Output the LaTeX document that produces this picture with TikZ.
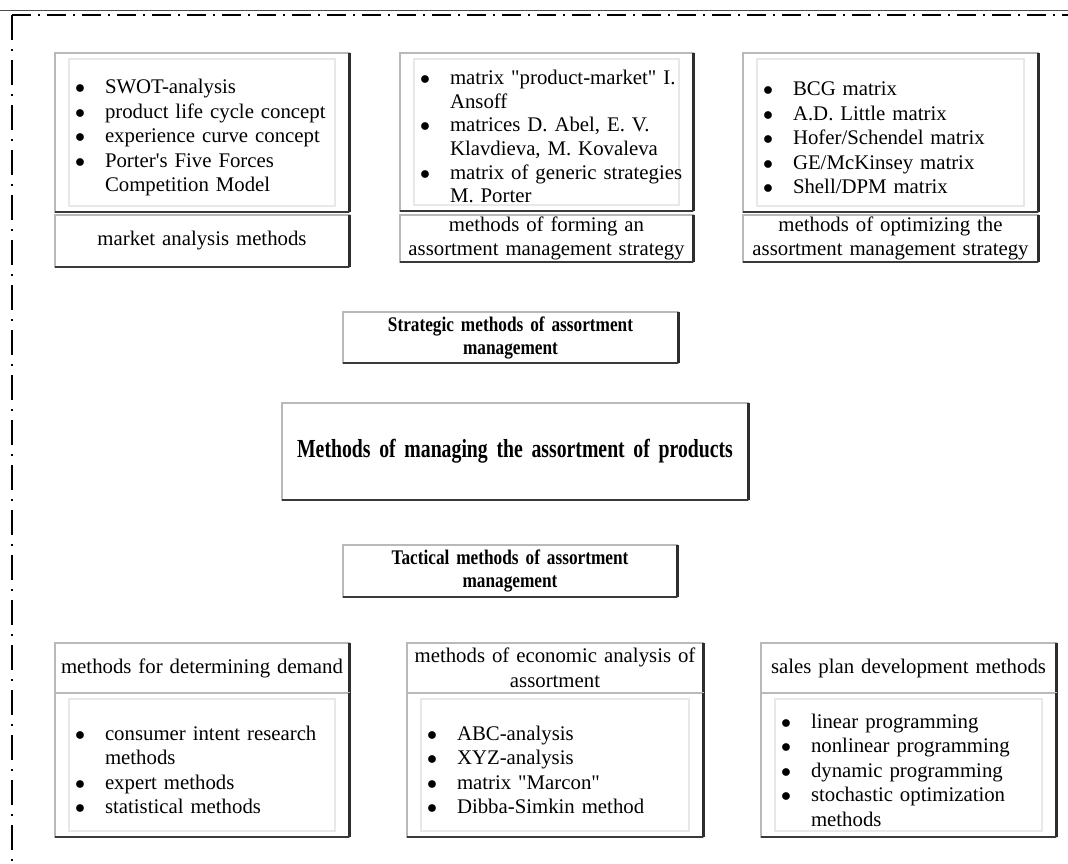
\documentclass[tikz,border=0pt]{standalone}
\usepackage{fontspec}
\setmainfont{Liberation Serif}
\newfontfamily\condfont[FakeStretch=0.83]{Liberation Serif}
\newfontfamily\titlefont[FakeStretch=0.76]{Liberation Serif}
\usepackage{enumitem}
\setlist[itemize]{label=$\bullet$,nosep,leftmargin=25pt,labelsep=10pt}
\tikzset{
  box/.style={draw=gray!55,line width=0.8pt,fill=white,inner sep=0pt,outer sep=0pt,
    append after command={
      (\tikzlastnode.north east) edge[draw=gray!35!black,line width=1.5pt] (\tikzlastnode.south east)
      (\tikzlastnode.south west) edge[draw=gray!45!black,line width=1.3pt] (\tikzlastnode.south east)}},
  listbox/.style={box,align=left,
    path picture={\draw[gray!18,line width=0.6pt]
      ([xshift=7pt,yshift=-3pt]path picture bounding box.north west) rectangle
      ([xshift=-7pt,yshift=3pt]path picture bounding box.south east);}},
  lbl/.style={box,align=center},
  head/.style={box,align=center,font=\condfont\bfseries\fontsize{10.4}{11.5}\selectfont}
}
\begin{document}
\begin{tikzpicture}[x=0.5pt,y=-0.5pt,font=\fontsize{10.4}{12.25}\selectfont]
\useasboundingbox (0,0) rectangle (1068,863);
% frame
\draw [gray!60!black,line width=0.5pt] (0,10)--(1068,10);
\draw [line width=1.3pt,dash pattern=on 9.5pt off 3.5pt on 1pt off 3.5pt] (12,15)--(1068,15);
\draw [line width=1.3pt,dash pattern=on 12.5pt off 4.5pt on 1pt off 4.5pt] (12,15)--(12,863);
% strategic group
\node (mktlist) at(202,132.5) [listbox,text width=147pt,minimum height=79.5pt] {%
\begin{itemize}
\item SWOT-analysis
\item product life cycle concept
\item experience curve concept
\item Porter\textquotesingle s Five Forces\newline Competition Model
\end{itemize}};
\node (mkt) at(202,241) [lbl,text width=147pt,minimum height=26pt] {market analysis methods};
\node (formlist) at(546.5,132) [listbox,text width=146.5pt,minimum height=79pt,
  font=\fontsize{10.4}{11.85}\selectfont] {%
\begin{itemize}
\item matrix \textquotedbl product-market\textquotedbl{} I.\newline Ansoff
\item matrices D. Abel, E. V.\newline Klavdieva, M. Kovaleva
\item matrix of generic strategies\newline M. Porter
\end{itemize}};
\node (form) at(546.5,238.5) [lbl,text width=146.5pt,minimum height=23.5pt] {methods of forming an\\assortment management strategy};
\node (optlist) at(890.5,132.5) [listbox,text width=147.5pt,minimum height=79.5pt] {%
\begin{itemize}
\item BCG matrix
\item A.D. Little matrix
\item Hofer/Schendel matrix
\item GE/McKinsey matrix
\item Shell/DPM matrix
\end{itemize}};
\node (opt) at(890.5,238.5) [lbl,text width=147.5pt,minimum height=23.5pt] {methods of optimizing the\\assortment management strategy};
\node (strat) at(510.5,337.5) [head,text width=167.5pt,minimum height=25.5pt] {Strategic methods of assortment\\management};
% main
\node (main) at(515,451.5) [box,text width=233pt,align=center,minimum height=48.5pt,
  font=\titlefont\bfseries\fontsize{13}{15}\selectfont] {Methods of managing the assortment of products};
% tactical group
\node (tact) at(510,571) [head,text width=167pt,minimum height=26pt] {Tactical methods of assortment\\management};
\node (dem) at(202,668) [lbl,text width=147pt,minimum height=25pt] {methods for determining demand};
\node (demlist) at(202,765) [listbox,text width=147pt,minimum height=72pt] {%
\begin{itemize}
\item consumer intent research\newline methods
\item expert methods
\item statistical methods
\end{itemize}};
\node (eco) at(555,668) [lbl,text width=148pt,minimum height=25pt] {methods of economic analysis of\\assortment};
\node (ecolist) at(555,765) [listbox,text width=148pt,minimum height=72pt] {%
\begin{itemize}
\item ABC-analysis
\item XYZ-analysis
\item matrix \textquotedbl Marcon\textquotedbl
\item Dibba-Simkin method
\end{itemize}};
\node (sales) at(908.5,668) [lbl,text width=147.5pt,minimum height=25pt] {sales plan development methods};
\node (saleslist) at(908.5,765) [listbox,text width=147.5pt,minimum height=72pt] {%
\begin{itemize}
\item linear programming
\item nonlinear programming
\item dynamic programming
\item stochastic optimization\newline methods
\end{itemize}};
\end{tikzpicture}
\end{document}
